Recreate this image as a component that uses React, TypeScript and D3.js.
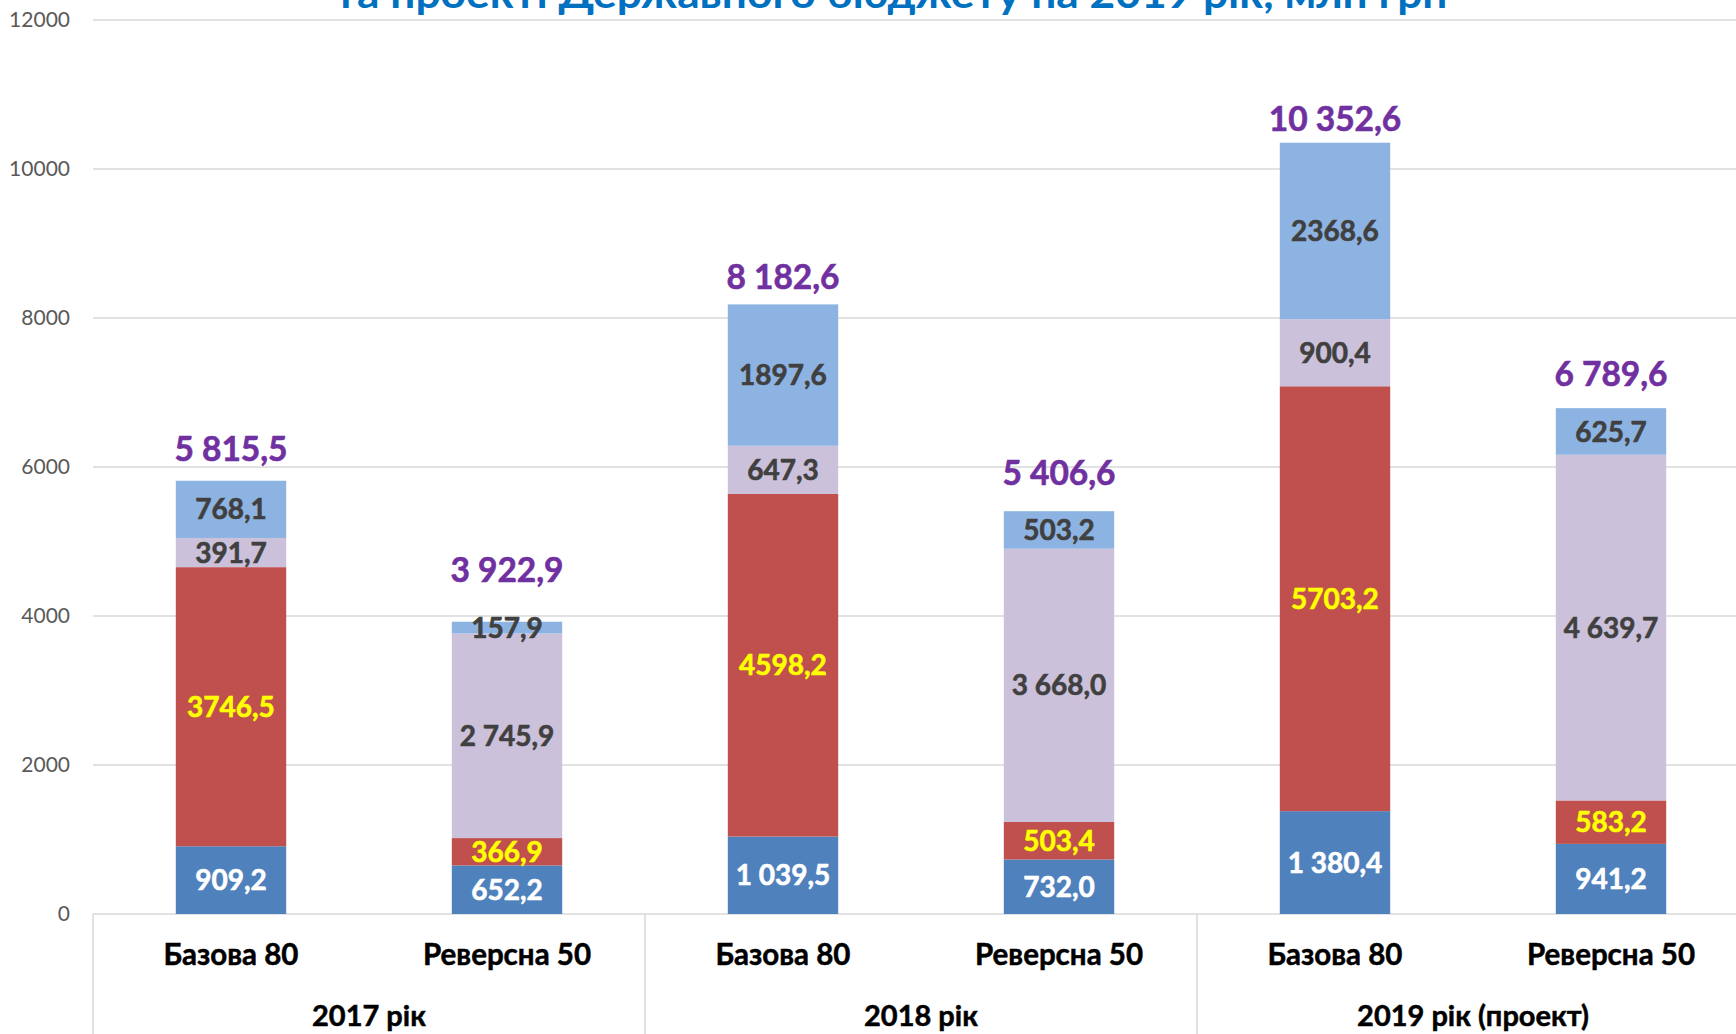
import * as d3 from "d3";

// categories: two scenarios per year
const years = ["2017 рік", "2018 рік", "2019 рік (проект)"];
const scenarios = ["Базова 80", "Реверсна 50"];

// stacked series, bottom to top, one value per bar
const series1 = [909.2, 652.2, 1039.5, 732.0, 1380.4, 941.2];
const series2 = [3746.5, 366.9, 4598.2, 503.4, 5703.2, 583.2];
const series3 = [391.7, 2745.9, 647.3, 3668.0, 900.4, 4639.7];
const series4 = [768.1, 157.9, 1897.6, 503.2, 2368.6, 625.7];

// data labels as printed on the chart
const labels1 = ["909,2", "652,2", "1 039,5", "732,0", "1 380,4", "941,2"];
const labels2 = ["3746,5", "366,9", "4598,2", "503,4", "5703,2", "583,2"];
const labels3 = ["391,7", "2 745,9", "647,3", "3 668,0", "900,4", "4 639,7"];
const labels4 = ["768,1", "157,9", "1897,6", "503,2", "2368,6", "625,7"];
const totalLabels = ["5 815,5", "3 922,9", "8 182,6", "5 406,6", "10 352,6", "6 789,6"];

const yTicks = [0, 2000, 4000, 6000, 8000, 10000, 12000];

const title = "та проекті Державного бюджету на 2019 рік, млн грн";

const W = 1736;
const H = 1034;
const FONT = "Lato, 'Open Sans', sans-serif";

const segColors = ["#4F81BD", "#C0504D", "#CCC1DA", "#8DB3E2"];
const segText = ["#FFFFFF", "#FFFF00", "#404040", "#404040"];
// total labels were nudged by hand in the original, px above bar top
const totalGap = [32, 52, 27, 38, 24, 34];

export default function App() {
  const bars = years.flatMap((y) => scenarios.map((s) => `${y}|${s}`));
  const rows = bars.map((key, i) => ({
    key,
    s1: series1[i],
    s2: series2[i],
    s3: series3[i],
    s4: series4[i],
  }));
  const allLabels = [labels1, labels2, labels3, labels4];

  const x = d3
    .scaleBand<string>()
    .domain(bars)
    .range([93, 1749])
    .paddingInner(0.6)
    .paddingOuter(0.3);
  const y = d3.scaleLinear().domain([0, 12000]).range([914, 20]);

  const stacked = d3.stack<any>().keys(["s1", "s2", "s3", "s4"])(rows);

  const groupStep = x.step() * scenarios.length;
  const groupX = d3
    .scaleBand<string>()
    .domain(years)
    .range([93, 93 + groupStep * years.length]);

  const cx = (i: number) => (x(bars[i]) as number) + x.bandwidth() / 2;

  return (
    <svg
      width={W}
      height={H}
      style={{ position: "absolute", left: 0, top: 0, background: "#fff" }}
    >
      <text
        x={891}
        y={8}
        textAnchor="middle"
        fontFamily={FONT}
        fontWeight="bold"
        fontSize={40}
        fill="#0070C0"
        textLength={1113}
        lengthAdjust="spacingAndGlyphs"
      >
        {title}
      </text>

      {/* grid */}
      {yTicks.map((t) => (
        <g key={t}>
          <line x1={93} x2={W} y1={y(t)} y2={y(t)} stroke="#D9D9D9" strokeWidth={1.5} />
          <text
            x={70}
            y={y(t)}
            dy="0.35em"
            textAnchor="end"
            fontFamily={FONT}
            fontSize={21}
            fill="#595959"
          >
            {t}
          </text>
        </g>
      ))}

      {/* bars */}
      {stacked.map((layer, li) => (
        <g key={layer.key}>
          {layer.map((d, i) => (
            <rect
              key={i}
              x={x(bars[i])}
              width={x.bandwidth()}
              y={y(d[1])}
              height={y(d[0]) - y(d[1])}
              fill={segColors[li]}
            />
          ))}
        </g>
      ))}

      {/* segment labels */}
      {stacked.map((layer, li) => (
        <g key={"l" + layer.key}>
          {layer.map((d, i) => (
            <text
              key={i}
              x={cx(i)}
              y={(y(d[0]) + y(d[1])) / 2}
              dy="0.36em"
              textAnchor="middle"
              fontFamily={FONT}
              fontWeight="bold"
              fontSize={28}
              fill={segText[li]}
              stroke={segText[li]}
              strokeWidth={0.6}
            >
              {allLabels[li][i]}
            </text>
          ))}
        </g>
      ))}

      {/* totals */}
      {rows.map((r, i) => (
        <text
          key={"t" + i}
          x={cx(i)}
          y={y(r.s1 + r.s2 + r.s3 + r.s4) - totalGap[i]}
          dy="0.36em"
          textAnchor="middle"
          fontFamily={FONT}
          fontWeight="bold"
          fontSize={33.5}
          fill="#7030A0"
          stroke="#7030A0"
          strokeWidth={0.6}
        >
          {totalLabels[i]}
        </text>
      ))}

      {/* category axis */}
      {years.map((yr) => (
        <line
          key={"sep" + yr}
          x1={groupX(yr)}
          x2={groupX(yr)}
          y1={914}
          y2={H}
          stroke="#D9D9D9"
          strokeWidth={1.5}
        />
      ))}
      {bars.map((b, i) => (
        <text
          key={"c" + i}
          x={cx(i)}
          y={955}
          dy="0.35em"
          textAnchor="middle"
          fontFamily={FONT}
          fontWeight="bold"
          fontSize={29.5}
          fill="#000"
          stroke="#000"
          strokeWidth={0.5}
        >
          {b.split("|")[1]}
        </text>
      ))}
      {years.map((yr) => (
        <text
          key={"y" + yr}
          x={(groupX(yr) as number) + groupX.bandwidth() / 2}
          y={1016}
          dy="0.35em"
          textAnchor="middle"
          fontFamily={FONT}
          fontWeight="bold"
          fontSize={29}
          fill="#000"
          stroke="#000"
          strokeWidth={0.5}
        >
          {yr}
        </text>
      ))}
    </svg>
  );
}
